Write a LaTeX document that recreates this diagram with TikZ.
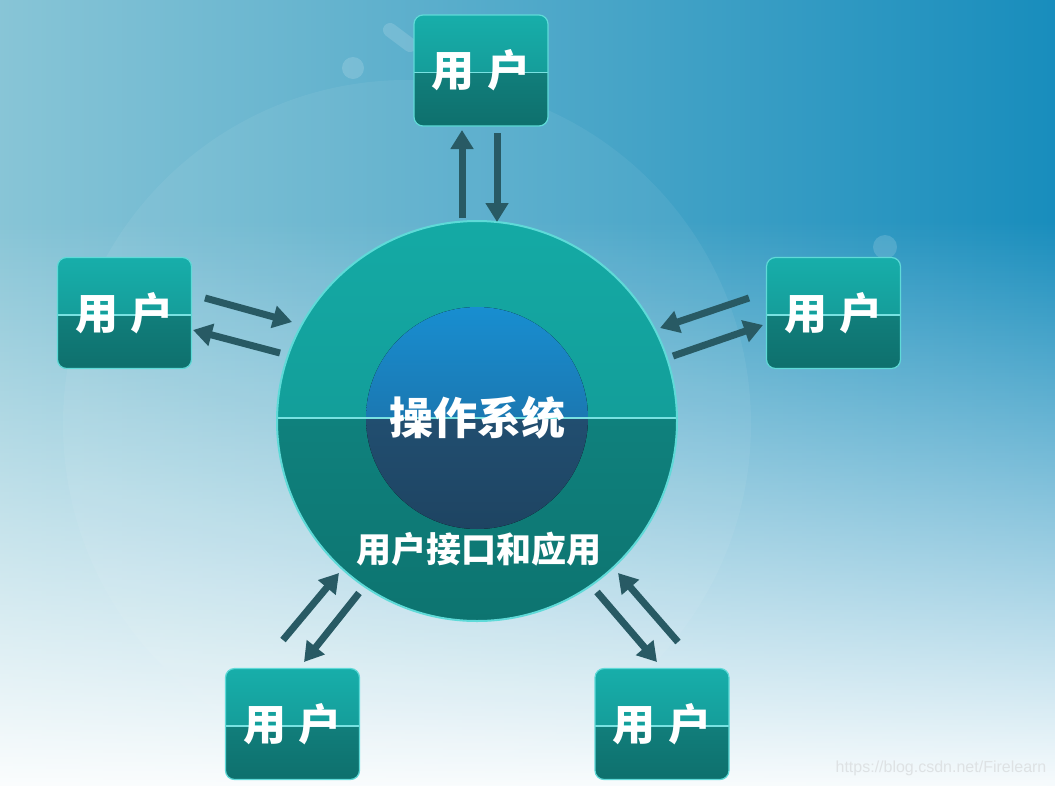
\documentclass[tikz,border=0pt]{standalone}
\usepackage{fontspec}
\newfontfamily\cjk{Noto Sans CJK SC}
\newfontfamily\wmfont{Liberation Sans}
\usetikzlibrary{arrows.meta,calc,fadings}
\definecolor{bgL}{RGB}{138,198,215}
\definecolor{bgR}{RGB}{22,140,188}
\definecolor{boxTop}{RGB}{23,174,170}
\definecolor{boxMid}{RGB}{19,142,139}
\definecolor{boxLow}{RGB}{17,126,123}
\definecolor{boxBot}{RGB}{14,112,109}
\definecolor{osTop}{RGB}{20,170,165}
\definecolor{osMid}{RGB}{18,146,142}
\definecolor{osLow}{RGB}{15,129,125}
\definecolor{osBot}{RGB}{13,116,112}
\definecolor{coreTop}{RGB}{24,142,208}
\definecolor{coreMid}{RGB}{30,98,148}
\definecolor{coreLow}{RGB}{33,78,112}
\definecolor{coreBot}{RGB}{30,68,98}
\definecolor{edgec}{RGB}{95,218,216}
\definecolor{sepc}{RGB}{120,225,225}
\definecolor{arrowc}{RGB}{40,90,100}
\definecolor{wmc}{RGB}{222,226,228}
\tikzfading[name=fadeup, top color=transparent!100, bottom color=transparent!0]
\begin{document}
\begin{tikzpicture}[x=1pt,y=-1pt,
  userbox/.style={draw=edgec, line width=1.2pt, rounded corners=9pt,
    minimum width=134pt, minimum height=111pt, inner sep=0pt,
    font=\cjk\bfseries\fontsize{43}{43}\selectfont, text=white,
    path picture={
      \fill[sharp corners, top color=boxTop, bottom color=boxMid] (path picture bounding box.north west) rectangle ($(path picture bounding box.east)+(0,2)$);
      \fill[sharp corners, top color=boxLow, bottom color=boxBot] ($(path picture bounding box.west)+(0,2)$) rectangle (path picture bounding box.south east);
      \draw[sharp corners, sepc, line width=1.5pt] ($(path picture bounding box.west)+(0,2)$) -- ($(path picture bounding box.east)+(0,2)$);
    }},
  osring/.style={circle, draw=edgec, line width=2pt, minimum size=400pt, inner sep=0pt,
    path picture={
      \fill[top color=osTop, bottom color=osMid] (path picture bounding box.north west) rectangle ($(path picture bounding box.east)+(0,-3)$);
      \fill[top color=osLow, bottom color=osBot] ($(path picture bounding box.west)+(0,-3)$) rectangle (path picture bounding box.south east);
      \draw[sepc, line width=2pt] ($(path picture bounding box.west)+(0,-3)$) -- ($(path picture bounding box.east)+(0,-3)$);
    }},
  corec/.style={circle, minimum size=222pt, inner sep=0pt, text=white,
    font=\cjk\bfseries\fontsize{44}{44}\selectfont,
    path picture={
      \fill[top color=coreTop, bottom color=coreMid] (path picture bounding box.north west) rectangle (path picture bounding box.east);
      \fill[top color=coreLow, bottom color=coreBot] (path picture bounding box.west) rectangle (path picture bounding box.south east);
      \draw[sepc, line width=2pt] (path picture bounding box.west) -- (path picture bounding box.east);
    }},
  uitext/.style={text=white, font=\cjk\bfseries\fontsize{35}{35}\selectfont, inner sep=0pt},
  arr/.style={draw=arrowc, line width=7pt, -{Triangle[width=22pt,length=19pt]}},
  bubble/.style={fill=white, opacity=0.15}
]
\useasboundingbox (0,0) rectangle (1055,785);
% background
\shade[left color=bgL, right color=bgR] (-20,-20) rectangle (1075,805);
\fill[white, path fading=fadeup] (-20,220) rectangle (1075,805);
\fill[white, opacity=0.06] (407,424) circle[radius=344];
\fill[bubble] (353,68) circle[radius=11];
\fill[bubble] (885,247) circle[radius=12];
\draw[white, opacity=0.15, line width=14pt, line cap=round] (390,30) -- (410,45);

% central circles
\node[osring] (os) at (477,421) {};
\node[corec] (core) at (477,418) {\raisebox{4pt}{操作系统}};
\node[uitext] (ui) at (479,549) {用户接口和应用};

% user boxes
\node[userbox] (uT) at (481,70.5) {\raisebox{-2pt}{用\hspace{13pt}户}};
\node[userbox] (uL) at (124.5,313) {\raisebox{-2pt}{用\hspace{13pt}户}};
\node[userbox] (uR) at (833.5,313) {\raisebox{-2pt}{用\hspace{13pt}户}};
\node[userbox] (uBL) at (292.5,724) {\raisebox{-2pt}{用\hspace{13pt}户}};
\node[userbox] (uBR) at (662,724) {\raisebox{-2pt}{用\hspace{13pt}户}};

% arrows
\draw[arr] ($(os)+(-15,-203)$) -- ($(uT)+(-19,59.5)$);
\draw[arr] ($(uT)+(16,62.5)$) -- ($(os)+(20,-199)$);
\draw[arr] ($(uL)+(80.5,-15)$) -- ($(os)+(-185,-99)$);
\draw[arr] ($(os)+(-197,-68)$) -- ($(uL)+(68.5,17)$);
\draw[arr] ($(uR)+(-84.5,-15)$) -- ($(os)+(183,-93)$);
\draw[arr] ($(os)+(196,-65)$) -- ($(uR)+(-70.5,12)$);
\draw[arr] ($(uBL)+(-9.5,-84)$) -- ($(os)+(-138,152)$);
\draw[arr] ($(os)+(-118,172)$) -- ($(uBL)+(11.5,-62)$);
\draw[arr] ($(os)+(120,171)$) -- ($(uBR)+(-5,-62)$);
\draw[arr] ($(uBR)+(16,-82)$) -- ($(os)+(141,152)$);

% watermark
\node[text=wmc, font=\wmfont\fontsize{16}{16}\selectfont, inner sep=0pt] (wm) at (941,768) {https://blog.csdn.net/Firelearn};
\end{tikzpicture}
\end{document}
